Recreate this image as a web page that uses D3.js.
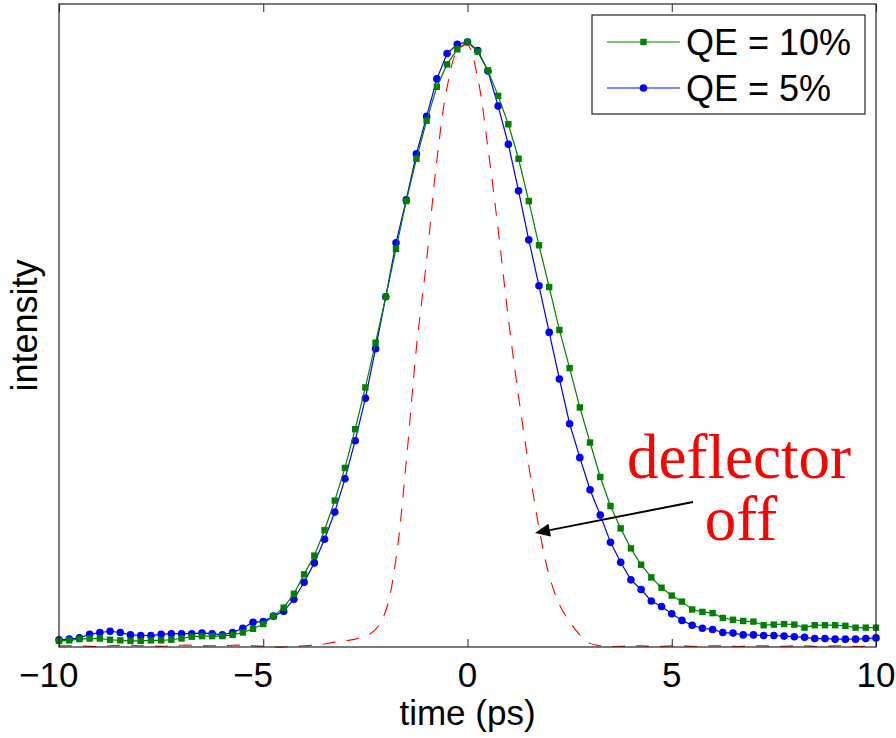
<!DOCTYPE html>
<html>
<head>
<meta charset="utf-8">
<script src="https://cdn.jsdelivr.net/npm/d3@7"></script>
<style>
  body { margin: 0; background: #fff; }
  text { font-family: "Liberation Sans", Arial, sans-serif; }
  text.note { font-family: "Liberation Serif", "Times New Roman", serif; }
</style>
</head>
<body>
<div id="chart"></div>
<script>
// time axis (ps)
const time = [
  -10, -9.75, -9.5, -9.25, -9, -8.75, -8.5, -8.25, -8, -7.75,
  -7.5, -7.25, -7, -6.75, -6.5, -6.25, -6, -5.75, -5.5, -5.25,
  -5, -4.75, -4.5, -4.25, -4, -3.75, -3.5, -3.25, -3, -2.75,
  -2.5, -2.25, -2, -1.75, -1.5, -1.25, -1, -0.75, -0.5, -0.25,
  0, 0.25, 0.5, 0.75, 1, 1.25, 1.5, 1.75, 2, 2.25,
  2.5, 2.75, 3, 3.25, 3.5, 3.75, 4, 4.25, 4.5, 4.75,
  5, 5.25, 5.5, 5.75, 6, 6.25, 6.5, 6.75, 7, 7.25,
  7.5, 7.75, 8, 8.25, 8.5, 8.75, 9, 9.25, 9.5, 9.75,
  10
];

const qe10 = [
  0.010, 0.011, 0.013, 0.014, 0.014, 0.012, 0.011, 0.010, 0.010, 0.011,
  0.011, 0.012, 0.014, 0.017, 0.018, 0.018, 0.018, 0.020, 0.024, 0.030,
  0.038, 0.051, 0.065, 0.088, 0.120, 0.151, 0.193, 0.242, 0.296, 0.360,
  0.429, 0.503, 0.579, 0.658, 0.737, 0.807, 0.870, 0.926, 0.963, 0.988,
  1.000, 0.984, 0.953, 0.911, 0.864, 0.807, 0.737, 0.664, 0.595, 0.524,
  0.461, 0.396, 0.338, 0.281, 0.233, 0.196, 0.163, 0.136, 0.115, 0.098,
  0.085, 0.075, 0.062, 0.058, 0.056, 0.048, 0.045, 0.043, 0.042, 0.036,
  0.037, 0.038, 0.037, 0.032, 0.036, 0.036, 0.036, 0.035, 0.032, 0.032,
  0.032
];

const qe5 = [
  0.012, 0.013, 0.015, 0.021, 0.024, 0.026, 0.024, 0.020, 0.019, 0.019,
  0.021, 0.022, 0.022, 0.022, 0.023, 0.022, 0.020, 0.024, 0.031, 0.041,
  0.042, 0.051, 0.059, 0.079, 0.107, 0.139, 0.178, 0.223, 0.278, 0.341,
  0.411, 0.493, 0.579, 0.668, 0.739, 0.815, 0.877, 0.939, 0.981, 0.996,
  1.000, 0.986, 0.952, 0.894, 0.831, 0.754, 0.673, 0.597, 0.520, 0.443,
  0.369, 0.313, 0.260, 0.218, 0.173, 0.140, 0.111, 0.095, 0.076, 0.067,
  0.055, 0.044, 0.036, 0.031, 0.029, 0.024, 0.023, 0.020, 0.020, 0.019,
  0.019, 0.018, 0.017, 0.016, 0.014, 0.014, 0.013, 0.013, 0.013, 0.014,
  0.015
];

const deflectorOff = [
  0.002, 0.002, 0.002, 0.001, 0.001, 0.002, 0.003, 0.003, 0.002, 0.002,
  0.001, 0.002, 0.003, 0.003, 0.002, 0.002, 0.002, 0.003, 0.003, 0.002,
  0.001, 0.000, 0.000, 0.001, 0.002, 0.003, 0.005, 0.008, 0.010, 0.013,
  0.018, 0.029, 0.060, 0.146, 0.306, 0.495, 0.640, 0.805, 0.925, 0.985,
  0.995, 0.940, 0.825, 0.690, 0.543, 0.414, 0.300, 0.197, 0.118, 0.070,
  0.042, 0.020, 0.006, 0.002, 0.001, 0.001, 0.002, 0.002, 0.001, 0.001,
  0.002, 0.002, 0.001, 0.001, 0.002, 0.002, 0.001, 0.001, 0.002, 0.002,
  0.001, 0.001, 0.002, 0.002, 0.001, 0.001, 0.002, 0.002, 0.001, 0.001,
  0.001
];

const xTicks = [-10, -5, 0, 5, 10];
const legendLabels = ['QE = 10%', 'QE = 5%'];
const noteLines = ['deflector', 'off'];

const W = 896, H = 738;
const margin = { top: 4, right: 20, bottom: 91, left: 59 };
const width = W - margin.left - margin.right;
const height = H - margin.top - margin.bottom;

const svg = d3.select('#chart').append('svg')
  .attr('width', W).attr('height', H);

const g = svg.append('g')
  .attr('transform', `translate(${margin.left},${margin.top})`);

const x = d3.scaleLinear().domain([-10, 10]).range([0, width]);
const y = d3.scaleLinear().domain([0, 1.0628]).range([height, 0]);

// ticks, inward on bottom and top
g.append('g').attr('transform', `translate(0,${height})`)
  .call(d3.axisBottom(x).tickValues(xTicks).tickSize(-8).tickFormat(''))
  .call(a => a.select('.domain').remove())
  .selectAll('line').attr('stroke', '#222');
g.append('g')
  .call(d3.axisTop(x).tickValues(xTicks).tickSize(-8).tickFormat(''))
  .call(a => a.select('.domain').remove())
  .selectAll('line').attr('stroke', '#222');

// tick labels: digits centred on tick, minus sign hanging to the left
const tl = g.append('g').attr('transform', `translate(0,${height + 40})`)
  .style('font-size', '35px');
xTicks.forEach(v => {
  const t = tl.append('text').attr('x', x(v)).attr('text-anchor', 'middle')
    .text(Math.abs(v));
  if (v < 0) {
    const w = t.node().getComputedTextLength();
    tl.append('text').attr('x', x(v) - w / 2).attr('text-anchor', 'end').text('\u2212');
  }
});

// axis titles
svg.append('text')
  .attr('x', margin.left + width / 2).attr('y', 725)
  .attr('text-anchor', 'middle').style('font-size', '35px')
  .text('time (ps)');
svg.append('text')
  .attr('transform', `translate(37,${margin.top + height / 2}) rotate(-90)`)
  .attr('text-anchor', 'middle').style('font-size', '36px')
  .text('intensity');

const pts = vals => time.map((t, i) => [t, vals[i]]);
const line = d3.line().x(d => x(d[0])).y(d => y(d[1]));

// QE = 5% (blue circles)
g.append('path').datum(pts(qe5)).attr('d', line)
  .attr('fill', 'none').attr('stroke', '#0000ff').attr('stroke-width', 1.2);
g.selectAll('.c5').data(pts(qe5)).enter().append('circle')
  .attr('cx', d => x(d[0])).attr('cy', d => y(d[1])).attr('r', 3.8)
  .attr('fill', '#0000ff');

// QE = 10% (green squares)
g.append('path').datum(pts(qe10)).attr('d', line)
  .attr('fill', 'none').attr('stroke', '#008000').attr('stroke-width', 1.2);
g.selectAll('.s10').data(pts(qe10)).enter().append('rect')
  .attr('x', d => x(d[0]) - 3.2).attr('y', d => y(d[1]) - 3.2)
  .attr('width', 6.4).attr('height', 6.4)
  .attr('fill', '#008000');

// deflector off (red dashed)
g.append('path').datum(pts(deflectorOff))
  .attr('d', line.curve(d3.curveCatmullRom))
  .attr('fill', 'none').attr('stroke', '#ff0000').attr('stroke-width', 1.1)
  .attr('stroke-dasharray', '13,11');

// box
g.append('rect').attr('width', width).attr('height', height)
  .attr('fill', 'none').attr('stroke', '#222').attr('stroke-width', 1.2);

// legend
const lg = svg.append('g');
lg.append('rect').attr('x', 592).attr('y', 15).attr('width', 273).attr('height', 99)
  .attr('fill', '#fff').attr('stroke', '#222').attr('stroke-width', 1.2);
const rows = [
  { label: legendLabels[0], color: '#008000', marker: 'square', y: 42 },
  { label: legendLabels[1], color: '#0000ff', marker: 'circle', y: 88 }
];
rows.forEach(r => {
  lg.append('line').attr('x1', 607).attr('x2', 680).attr('y1', r.y).attr('y2', r.y)
    .attr('stroke', r.color).attr('stroke-width', 1.2);
  if (r.marker === 'square') {
    lg.append('rect').attr('x', 643.5 - 3.2).attr('y', r.y - 3.2)
      .attr('width', 6.4).attr('height', 6.4).attr('fill', r.color);
  } else {
    lg.append('circle').attr('cx', 643.5).attr('cy', r.y).attr('r', 3.8).attr('fill', r.color);
  }
  lg.append('text').attr('x', 686).attr('y', r.y + 13)
    .style('font-size', '36px').text(r.label);
});

// annotation arrow + text
const ax0 = 693, ay0 = 502, ax1 = 535, ay1 = 533;
const ang = Math.atan2(ay1 - ay0, ax1 - ax0);
const hl = 15, hw = 6.5;
const bx = ax1 - hl * Math.cos(ang), by = ay1 - hl * Math.sin(ang);
svg.append('line').attr('x1', ax0).attr('y1', ay0).attr('x2', bx).attr('y2', by)
  .attr('stroke', '#000').attr('stroke-width', 2);
svg.append('path')
  .attr('d', `M${ax1},${ay1}L${bx + hw * Math.sin(ang)},${by - hw * Math.cos(ang)}L${bx - hw * Math.sin(ang)},${by + hw * Math.cos(ang)}Z`)
  .attr('fill', '#000');

const note = svg.append('text').attr('class', 'note')
  .style('font-size', '63px').attr('fill', '#ff0000').attr('text-anchor', 'middle');
note.append('tspan').attr('x', 739).attr('y', 478).text(noteLines[0]);
note.append('tspan').attr('x', 741).attr('y', 540).text(noteLines[1]);
</script>
</body>
</html>
